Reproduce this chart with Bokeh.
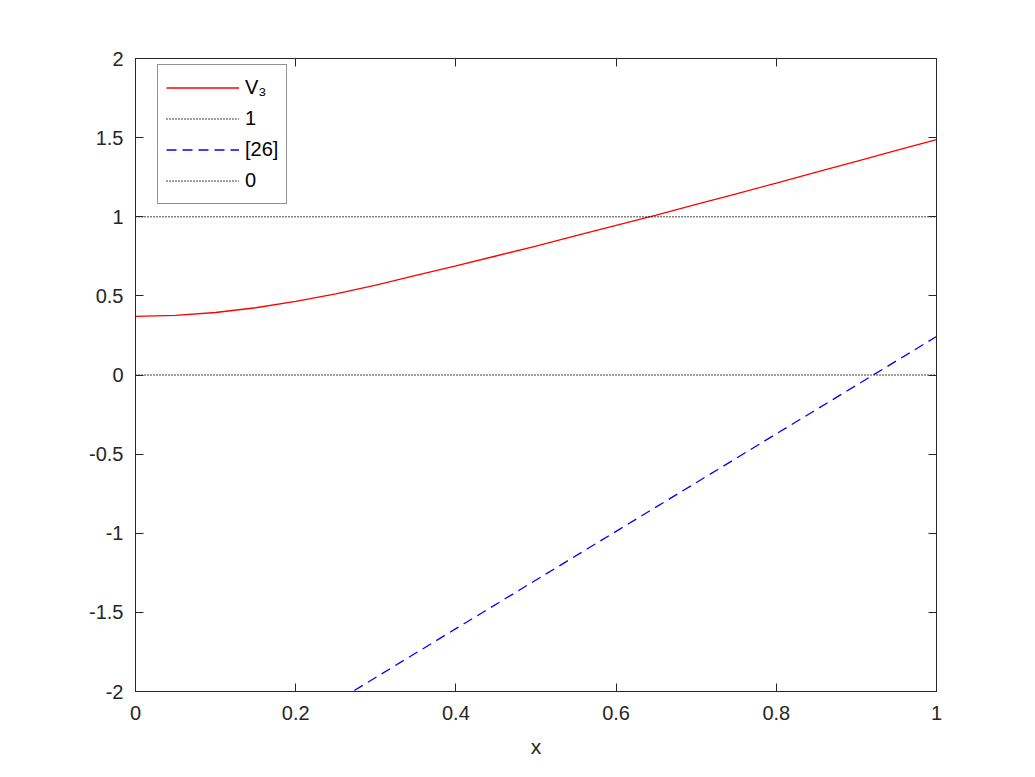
from bokeh.plotting import figure
from bokeh.models import LinearAxis, Range1d, FixedTicker, Legend, LegendItem
from bokeh.embed import file_html
from bokeh.resources import INLINE

# data
x_v3 = [0.0, 0.05, 0.1, 0.15, 0.2, 0.25, 0.3, 0.35, 0.4, 0.45, 0.5,
        0.55, 0.6, 0.65, 0.7, 0.75, 0.8, 0.85, 0.9, 0.95, 1.0]
y_v3 = [0.371, 0.377, 0.395, 0.425, 0.465, 0.513, 0.568, 0.63, 0.69, 0.752, 0.815,
        0.88, 0.945, 1.01, 1.078, 1.145, 1.213, 1.282, 1.35, 1.42, 1.488]
x_ref = [0.0, 0.2, 0.4, 0.6, 0.8, 1.0]
y_ref = [-2.834, -2.219, -1.603, -0.988, -0.372, 0.243]
x_const = [0.0, 1.0]
y_one = [1.0, 1.0]
y_zero = [0.0, 0.0]
x_ticks = [0, 0.2, 0.4, 0.6, 0.8, 1.0]
x_tick_labels = ["0", "0.2", "0.4", "0.6", "0.8", "1"]
y_ticks = [-2, -1.5, -1, -0.5, 0, 0.5, 1, 1.5, 2]
y_tick_labels = ["-2", "-1.5", "-1", "-0.5", "0", "0.5", "1", "1.5", "2"]
legend_labels = ["V₃", "1", "[26]", "0"]

FONT = "Liberation Sans"
AX = "#262626"

p = figure(width=1027, height=769, output_backend="svg", toolbar_location=None,
           x_range=Range1d(0, 1), y_range=Range1d(-2, 2),
           min_border_left=135, min_border_right=91, min_border_top=58, min_border_bottom=78,
           x_axis_label="x")
p.grid.visible = False
p.outline_line_color = AX
p.outline_line_width = 1
p.background_fill_color = "white"
p.border_fill_color = "white"

r1 = p.line(x_v3, y_v3, line_color="#ff0000", line_width=1.3)
r2 = p.line(x_const, y_one, line_color="black", line_width=1.4, line_dash="1 2")
r3 = p.line(x_ref, y_ref, line_color="#0000ff", line_width=1.3, line_dash="10 6")
r4 = p.line(x_const, y_zero, line_color="black", line_width=1.4, line_dash="1 2")

def style(ax, labels=True):
    ax.axis_line_color = AX
    ax.major_tick_line_color = AX
    ax.major_tick_in = 8
    ax.major_tick_out = 0
    ax.minor_tick_line_color = None
    ax.major_label_text_font = FONT
    ax.major_label_text_font_size = "20px"
    ax.major_label_text_color = AX
    ax.axis_label_text_font = FONT
    ax.axis_label_text_font_size = "21px"
    ax.axis_label_text_font_style = "normal"
    ax.axis_label_text_color = AX
    if not labels:
        ax.major_label_text_font_size = "0px"
        ax.major_label_text_color = None

p.xaxis.ticker = FixedTicker(ticks=x_ticks)
p.yaxis.ticker = FixedTicker(ticks=y_ticks)
p.xaxis.major_label_overrides = dict(zip(x_ticks, x_tick_labels))
p.yaxis.major_label_overrides = dict(zip(y_ticks, y_tick_labels))
for ax in p.xaxis + p.yaxis:
    style(ax)
p.yaxis.major_label_standoff = 12
p.xaxis.major_label_standoff = 14
p.xaxis.axis_label_standoff = 12

top = LinearAxis(ticker=FixedTicker(ticks=x_ticks))
right = LinearAxis(ticker=FixedTicker(ticks=y_ticks))
style(top, False)
style(right, False)
p.add_layout(top, "above")
p.add_layout(right, "right")

legend = Legend(items=[LegendItem(label=legend_labels[0], renderers=[r1]),
                       LegendItem(label=legend_labels[1], renderers=[r2]),
                       LegendItem(label=legend_labels[2], renderers=[r3]),
                       LegendItem(label=legend_labels[3], renderers=[r4])],
                location=(22, 487))
legend.glyph_width = 73
legend.glyph_height = 29
legend.label_height = 29
legend.spacing = 2
legend.padding = 8
legend.margin = 0
legend.label_standoff = 6
legend.label_text_font = FONT
legend.label_text_font_size = "20px"
legend.label_text_color = "black"
legend.border_line_color = AX
legend.border_line_width = 1
legend.background_fill_color = "white"
legend.background_fill_alpha = 1
p.add_layout(legend, "center")

open("out.html", "w").write(file_html(p, INLINE))
